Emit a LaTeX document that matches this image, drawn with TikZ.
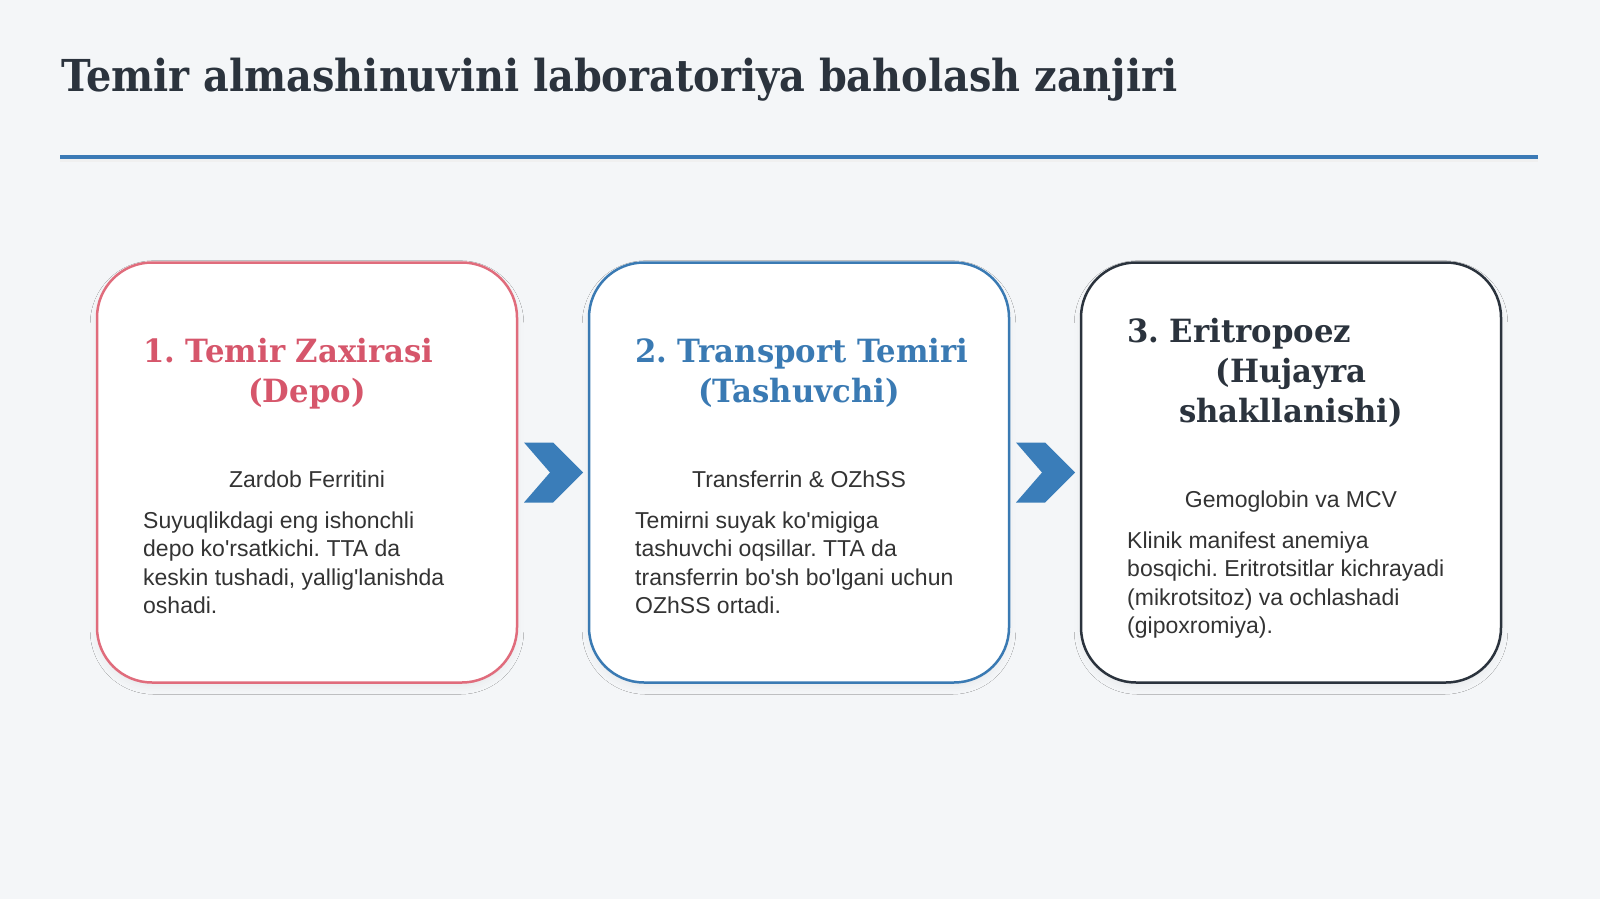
\documentclass[tikz,border=0pt]{standalone}
\usepackage{fontspec}
\setmainfont{Liberation Sans}
\newfontfamily\headfont{DejaVu Serif}[FakeStretch=0.905]
\newfontfamily\cardfont{DejaVu Serif}[FakeStretch=0.96]
\usetikzlibrary{calc,shadows.blur}
\definecolor{pagebg}{HTML}{F4F6F8}
\definecolor{inkdark}{HTML}{2B333D}
\definecolor{textgray}{HTML}{333333}
\definecolor{ruleblue}{HTML}{3B7AB6}
\definecolor{chevblue}{HTML}{3A7DB9}
\definecolor{depored}{HTML}{D6566B}
\definecolor{depoline}{HTML}{E06C7C}
\definecolor{transblue}{HTML}{3A7AB3}
\newcommand{\ap}{\textquotesingle}
\tikzset{
	card/.style={
			draw=#1, line width=2.5pt, fill=white, rounded corners=55pt,
			minimum width=420pt, minimum height=420pt, inner sep=0pt,
			blur shadow={shadow xshift=0pt, shadow yshift=-5pt, shadow scale=0.99,
					shadow blur radius=9pt, shadow opacity=6}
		},
	cardhead/.style={text=#1, inner sep=0pt,
			font=\cardfont\bfseries\fontsize{32}{40}\selectfont},
	cardsub/.style={text=textgray, inner sep=0pt, anchor=base,
			font=\fontsize{23}{28.5}\selectfont},
	% multi-line nodes sit on their last line
	cardbody/.style={text=textgray, inner sep=0pt, anchor=base west, align=left,
			font=\fontsize{23}{28.5}\selectfont}
}

\begin{document}
\frenchspacing
\begin{tikzpicture}[x=1pt, y=-1pt]

	% Page and frame
	\fill[pagebg] (0,0) rectangle (1600,899);
	\useasboundingbox (0,0) rectangle (1600,899);

	% Heading and rule
	\node[anchor=base west, inner sep=0pt, text=inkdark,
		font=\headfont\bfseries\fontsize{44}{50}\selectfont] (title) at (61,92)
		{Temir almashinuvini laboratoriya baholash zanjiri};
	\coordinate (rule-l) at (60,157);
	\coordinate (rule-r) at (1538,157);
	\draw[black!6, line width=4pt] ($(rule-l)+(0,3)$) -- ($(rule-r)+(0,3)$);
	\draw[ruleblue, line width=3.5pt] (rule-l) -- (rule-r);

	% The three cards
	\node[card=depoline] (depo) at (307,472.5) {};
	\node[card=transblue] (trans) at (799,472.5) {};
	\node[card=inkdark] (eritro) at (1291,472.5) {};

	% Chevrons between the cards
	\foreach \a/\b/\n in {depo/trans/ch1, trans/eritro/ch2} {
		\path (\a.east) -- (\b.west) coordinate[midway] (\n);
		\fill[chevblue] ($(\n)+(-29,-30)$) -- ($(\n)+(0,-30)$) -- ($(\n)+(30,0)$)
			-- ($(\n)+(0,30)$) -- ($(\n)+(-29,30)$) -- ($(\n)+(-3,0)$) -- cycle;
	}

	% Card 1: depo
	\node[cardhead=depored, anchor=base west] (depo-h1) at (143,362) {1. Temir Zaxirasi};
	\node[cardhead=depored, anchor=base] (depo-h2) at (307,402) {(Depo)};
	\node[cardsub] (depo-sub) at (307,487) {Zardob Ferritini};
	\node[cardbody] (depo-txt) at (143,613.5)
		{Suyuqlikdagi eng ishonchli\\depo ko\ap rsatkichi. TTA da\\keskin tushadi, yallig\ap lanishda\\oshadi.};

	% Card 2: transport
	\node[cardhead=transblue, anchor=base west] (trans-h1) at (635,362) {2. Transport Temiri};
	\node[cardhead=transblue, anchor=base] (trans-h2) at (799,402) {(Tashuvchi)};
	\node[cardsub] (trans-sub) at (799,487) {Transferrin \& OZhSS};
	\node[cardbody] (trans-txt) at (635,613.5)
		{Temirni suyak ko\ap migiga\\tashuvchi oqsillar. TTA da\\transferrin bo\ap sh bo\ap lgani uchun\\OZhSS ortadi.};

	% Card 3: eritropoez
	\node[cardhead=inkdark, anchor=base west] (eritro-h1) at (1127,342) {3. Eritropoez};
	\node[cardhead=inkdark, anchor=base, align=center] (eritro-h2) at (1291,422) {(Hujayra\\shakllanishi)};
	\node[cardsub] (eritro-sub) at (1291,507) {Gemoglobin va MCV};
	\node[cardbody] (eritro-txt) at (1127,633.5)
		{Klinik manifest anemiya\\bosqichi. Eritrotsitlar kichrayadi\\(mikrotsitoz) va ochlashadi\\(gipoxromiya).};

\end{tikzpicture}
\end{document}
